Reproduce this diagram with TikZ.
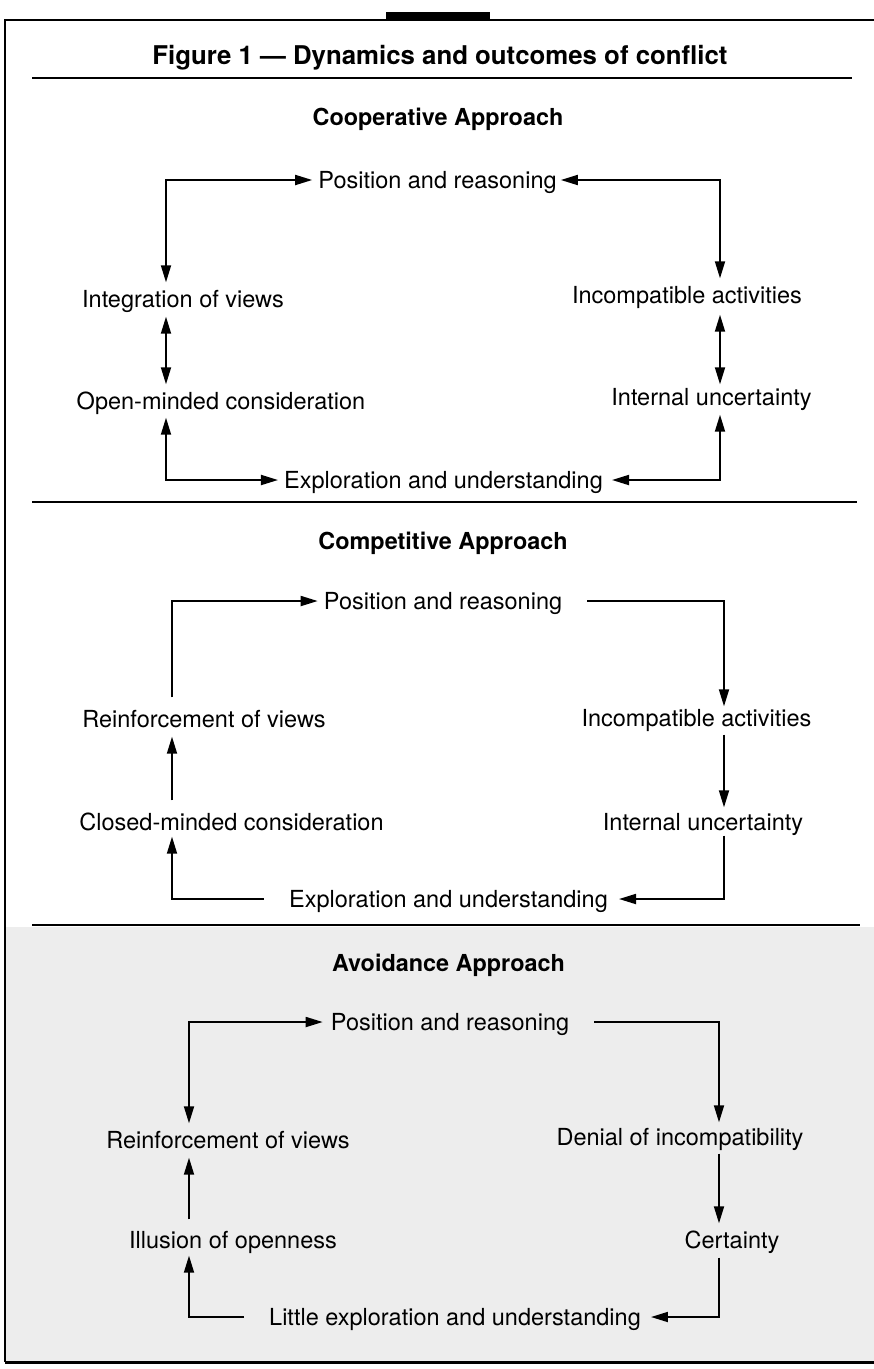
\documentclass[tikz,border=0pt]{standalone}
\usepackage{fontspec}
\setmainfont{TeX Gyre Heros}
\usetikzlibrary{arrows.meta,calc}
\tikzset{
  lbl/.style={inner sep=0pt, text height=17pt, text depth=0pt, anchor=center,
    font=\fontsize{23.5pt}{28pt}\selectfont},
  head/.style={lbl, font=\fontsize{23.4pt}{28pt}\selectfont\bfseries},
  ttl/.style={inner sep=0pt, text height=18.5pt, text depth=0pt, anchor=center,
    font=\fontsize{25.8pt}{30pt}\selectfont\bfseries},
  conn/.style={line width=1.8pt, black},
  arr/.style={conn, -{Triangle[length=17pt,width=10pt]}},
  dbl/.style={conn, {Triangle[length=17pt,width=10pt]}-{Triangle[length=17pt,width=10pt]}},
  rule/.style={line width=2.4pt, black},
}
\begin{document}
\begin{tikzpicture}[x=1pt,y=-1pt]
\useasboundingbox (0,0) rectangle (874,1369);
% scanned-page tint in the lower section
\fill[black!7] (5,927) rectangle (874,1362);
% frame
\draw[line width=2pt] (874,20) -- (5,20) -- (5,1362);
\draw[line width=3pt] (5,1362) -- (874,1362);
\fill[black] (386,12) rectangle (490,20);
% title and rules
\node[ttl] (title) at (440,55) {Figure 1 --- Dynamics and outcomes of conflict};
\draw[rule] (32,78) -- (852,78);
\draw[rule] (32,502) -- (857,502);
\draw[rule] (32,925) -- (860,925);

% ---------- Cooperative ----------
\node[head] (h1) at (438,117) {Cooperative Approach};
\node[lbl] (a_pr) at (437.5,180) {Position and reasoning};
\node[lbl] (a_iv) at (183,299) {Integration of views};
\node[lbl] (a_om) at (221,401) {Open-minded consideration};
\node[lbl] (a_eu) at (443.5,480) {Exploration and understanding};
\node[lbl] (a_ia) at (687,295) {Incompatible activities};
\node[lbl] (a_iu) at (711.5,397) {Internal uncertainty};
\coordinate (aL) at (166,0);
\coordinate (aR) at (720,0);
\draw[dbl] ($(a_iv.north -| aL)+(0,-8)$) |- ($(a_pr.west)+(-6,0)$);
\draw[dbl] ($(a_pr.east)+(4,0)$) -| ($(a_ia.north -| aR)+(0,-8)$);
\draw[dbl] ($(a_iv.south -| aL)+(0,9)$) -- ($(a_om.north -| aL)+(0,-8)$);
\draw[dbl] ($(a_ia.south -| aR)+(0,11)$) -- ($(a_iu.north -| aR)+(0,-4)$);
\draw[dbl] ($(a_om.south -| aL)+(0,8)$) |- ($(a_eu.west)+(-6,0)$);
\draw[dbl] ($(a_eu.east)+(9,0)$) -| ($(a_iu.south -| aR)+(0,9)$);

% ---------- Competitive ----------
\node[head] (h2) at (443,541) {Competitive Approach};
\node[lbl] (b_pr) at (443,601) {Position and reasoning};
\node[lbl] (b_rv) at (204,719) {Reinforcement of views};
\node[lbl] (b_cm) at (231.5,822) {Closed-minded consideration};
\node[lbl] (b_eu) at (448.5,899) {Exploration and understanding};
\node[lbl] (b_ia) at (696.5,718) {Incompatible activities};
\node[lbl] (b_iu) at (703,822) {Internal uncertainty};
\coordinate (bL) at (172,0);
\coordinate (bR) at (724,0);
\draw[arr] ($(b_rv.north -| bL)+(0,-13)$) |- ($(b_pr.west)+(-6,0)$);
\draw[arr] ($(b_pr.east)+(25,0)$) -| ($(b_ia.north -| bR)+(0,-3)$);
\draw[arr] ($(b_ia.south -| bR)+(0,8)$) -- ($(b_iu.north -| bR)+(0,-6)$);
\draw[arr] ($(b_iu.south -| bR)+(0,5)$) |- ($(b_eu.east)+(11,0)$);
\draw[arr] ($(b_eu.west)+(-25,0)$) -| ($(b_cm.south -| bL)+(0,6)$);
\draw[arr] ($(b_cm.north -| bL)+(0,-13)$) -- ($(b_rv.south -| bL)+(0,9)$);

% ---------- Avoidance ----------
\node[head] (h3) at (448.5,963) {Avoidance Approach};
\node[lbl] (c_pr) at (450,1022) {Position and reasoning};
\node[lbl] (c_rv) at (228,1140) {Reinforcement of views};
\node[lbl] (c_io) at (233,1240) {Illusion of openness};
\node[lbl] (c_le) at (455,1317) {Little exploration and understanding};
\node[lbl] (c_di) at (680,1137) {Denial of incompatibility};
\node[lbl] (c_ce) at (732,1240) {Certainty};
\coordinate (cL) at (189,0);
\coordinate (cR) at (719,0);
\draw[dbl] ($(c_rv.north -| cL)+(0,-8)$) |- ($(c_pr.west)+(-8,0)$);
\draw[arr] ($(c_pr.east)+(25,0)$) -| ($(c_di.north -| cR)+(0,-6)$);
\draw[arr] ($(c_di.south -| cR)+(0,8)$) -- ($(c_ce.north -| cR)+(0,-8)$);
\draw[arr] ($(c_ce.south -| cR)+(0,9)$) |- ($(c_le.east)+(10,0)$);
\draw[arr] ($(c_le.west)+(-25,0)$) -| ($(c_io.south -| cL)+(0,7)$);
\draw[arr] ($(c_io.north -| cL)+(0,-12)$) -- ($(c_rv.south -| cL)+(0,9)$);
\end{tikzpicture}
\end{document}
